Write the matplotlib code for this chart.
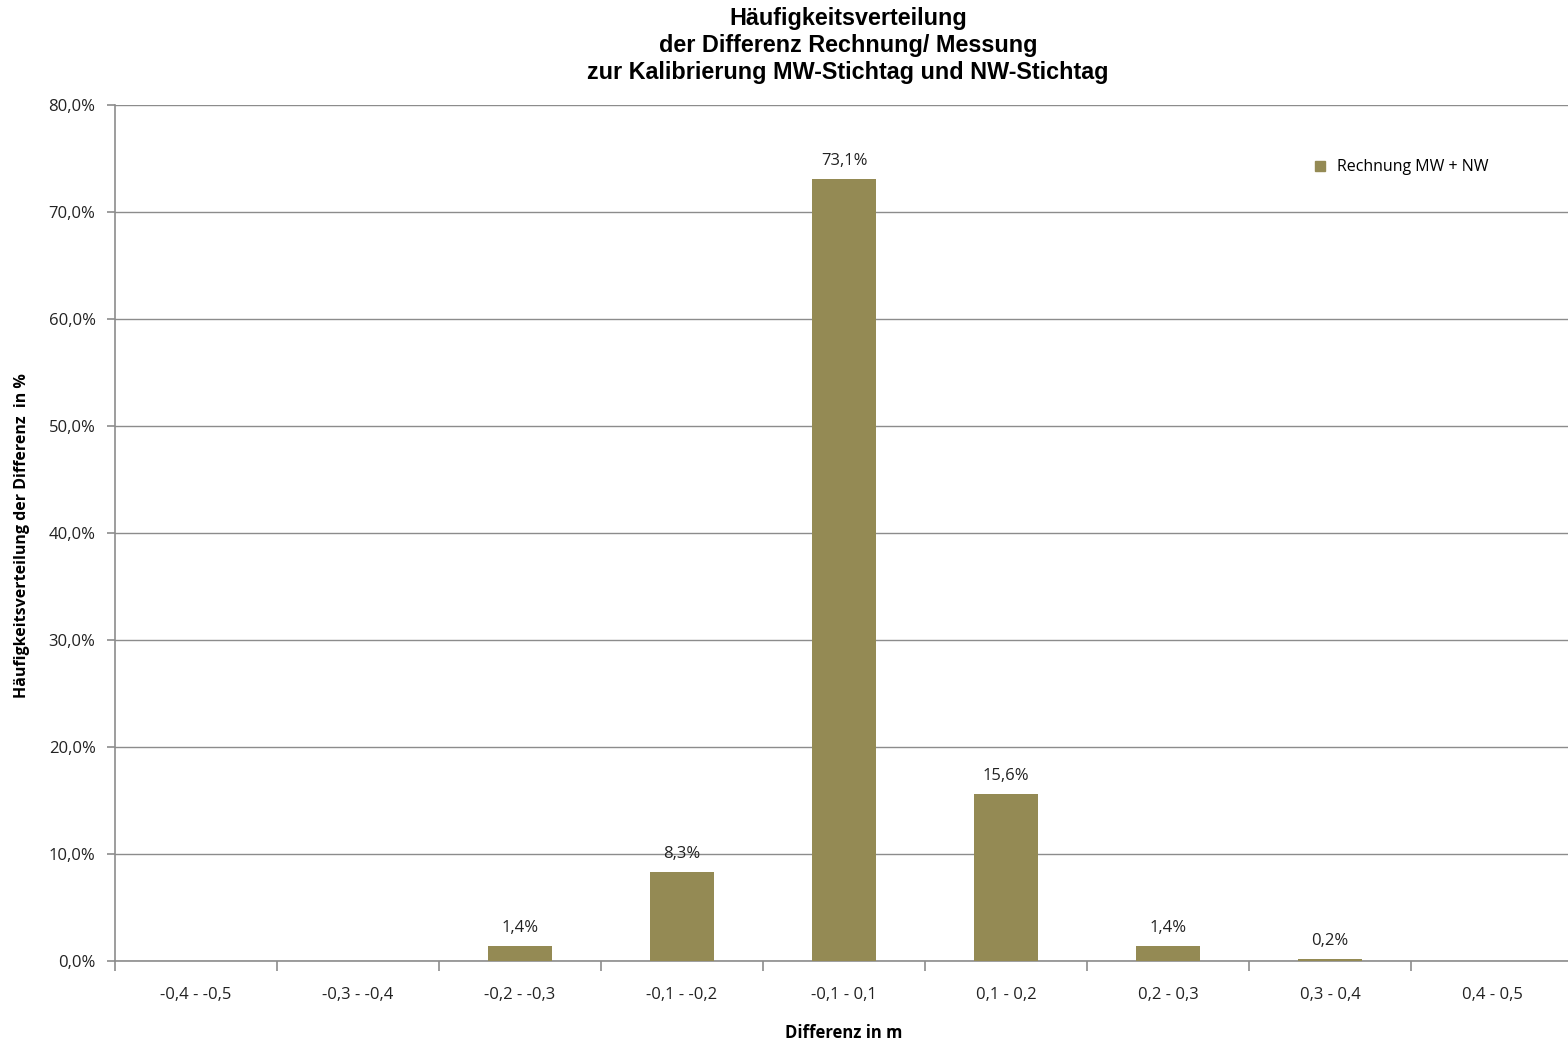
import numpy as np
import matplotlib.pyplot as plt
from matplotlib.ticker import FuncFormatter, FixedLocator, MultipleLocator
from matplotlib.lines import Line2D

# classes of the difference (m) and relative frequency in %
klassen = ["-0,4 - -0,5", "-0,3 - -0,4", "-0,2 - -0,3", "-0,1 - -0,2", "-0,1 - 0,1",
           "0,1 - 0,2", "0,2 - 0,3", "0,3 - 0,4", "0,4 - 0,5"]
anteil = [0.0, 0.0, 1.4, 8.3, 73.1, 15.6, 1.4, 0.2, 0.0]
beschriftet = [False, False, True, True, True, True, True, True, False]

bar_color = "#948A54"
grid_color = "#8c8c8c"
txt_font = ["Open Sans", "DejaVu Sans"]
title_font = ["Liberation Sans", "DejaVu Sans"]
fs = 12

fig = plt.figure(figsize=(15.68, 10.4), dpi=100)
# plot area runs a little past the right image edge
ax = fig.add_axes([115 / 1568, 1 - 961 / 1040, 1458 / 1568, (961 - 105) / 1040])

x = np.arange(len(klassen))
bars = ax.bar(x, anteil, width=0.4, color=bar_color, zorder=3)

for xi, v, show in zip(x, anteil, beschriftet):
    if show:
        ax.annotate(f"{v:.1f}%".replace(".", ","), (xi, v), xytext=(0, 7),
                    textcoords="offset points", ha="center", va="bottom",
                    fontsize=fs, family=txt_font, color="#222222")

ax.set_xlim(-0.5, len(klassen) - 0.5)
ax.set_ylim(0, 80)
ax.yaxis.set_major_locator(MultipleLocator(10))
ax.yaxis.set_major_formatter(FuncFormatter(lambda v, p: f"{v:.1f}%".replace(".", ",")))
ax.grid(axis="y", color=grid_color, linewidth=1.0, zorder=0)

# category labels centred, ticks on the class boundaries
ax.set_xticks(x)
ax.set_xticklabels(klassen)
ax.tick_params(axis="x", which="major", length=0, pad=19)
ax.xaxis.set_minor_locator(FixedLocator(np.arange(-0.5, len(klassen), 1.0)))
ax.tick_params(axis="x", which="minor", length=7, color=grid_color, width=1.2)
ax.tick_params(axis="y", length=6, color=grid_color, width=1.2, pad=8)

for lab in ax.get_xticklabels() + ax.get_yticklabels():
    lab.set_family(txt_font)
    lab.set_fontsize(fs)
    lab.set_color("#222222")

for s in ["top", "right"]:
    ax.spines[s].set_visible(False)
for s in ["left", "bottom"]:
    ax.spines[s].set_color(grid_color)
    ax.spines[s].set_linewidth(1.2)

ax.set_xlabel("Differenz in m", family=txt_font, fontsize=fs, fontweight="bold", labelpad=15)
ax.set_ylabel("Häufigkeitsverteilung der Differenz  in %", family=txt_font, fontsize=11.5,
              fontweight="bold")
ax.yaxis.set_label_coords(-0.058, 0.497)

fig.suptitle("Häufigkeitsverteilung\nder Differenz Rechnung/ Messung\nzur Kalibrierung MW-Stichtag und NW-Stichtag",
             x=848 / 1568, y=0.993, fontsize=16.8, fontweight="bold",
             family=title_font, linespacing=1.22)

handle = Line2D([], [], marker="s", linestyle="none", color=bar_color, markersize=7)
leg = ax.legend([handle], ["Rechnung MW + NW"], loc="center left",
                bbox_to_anchor=(0.806, 0.927), frameon=False, handletextpad=0.05,
                prop={"family": txt_font, "size": 11.5})

fig.savefig("out.png", dpi=100)
